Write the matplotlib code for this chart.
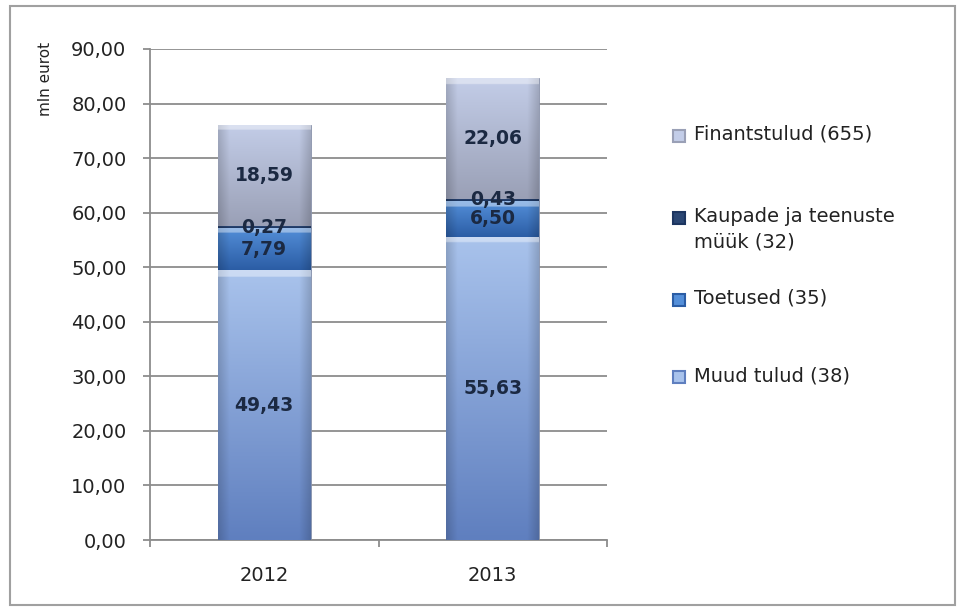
import numpy as np
import matplotlib
matplotlib.use('Agg')
import matplotlib.pyplot as plt
from matplotlib.colors import to_rgb
from matplotlib.patches import Rectangle

# Andmed (mln eurot)
aastad = ['2012', '2013']
muud_tulud = [49.43, 55.63]
toetused = [7.79, 6.50]
kaupade_myyk = [0.27, 0.43]
finantstulud = [18.59, 22.06]

seeriad = [muud_tulud, toetused, kaupade_myyk, finantstulud]
legendi_nimed = ['Finantstulud (655)', 'Kaupade ja teenuste\nmüük (32)',
                 'Toetused (35)', 'Muud tulud (38)']
yticks = np.arange(0, 91, 10)

# varvid: (ulemine, alumine)
varvid = [('#a9c3ec', '#5f7fbf'),
          ('#548fd9', '#2b5da5'),
          ('#2a4673', '#1c3560'),
          ('#c3cde8', '#9aa0b6')]


def gradient_tulp(ax, patch, top, bot):
    '''Tulba sisse vertikaalne ja horisontaalne gradient'''
    x0, y0 = patch.get_x(), patch.get_y()
    w, h = patch.get_width(), patch.get_height()
    ny, nx = 200, 60
    t = np.linspace(0, 1, ny)[:, None, None]  # 0 = ules
    c_top = np.array(to_rgb(top))
    c_bot = np.array(to_rgb(bot))
    img = c_top * (1 - t) + c_bot * t
    xx = np.linspace(0, 1, nx)
    serv = 0.84 + 0.16 * np.clip(np.minimum(xx, 1 - xx) / 0.12, 0, 1)
    img = img * serv[None, :, None]
    # hele triip ulal
    if h > 2:
        px = 5.5 / 5.455  # ~5.5 px andmeuhikutes
        frac = px / h
        rows = t[:, 0, 0] < frac
        img[rows] = img[rows] * 0.6 + 0.4
    img = np.clip(img, 0, 1)
    im = ax.imshow(img, extent=[x0, x0 + w, y0, y0 + h], aspect='auto',
                   origin='upper', zorder=3, interpolation='bilinear')
    im.set_clip_path(patch)


fig = plt.figure(figsize=(9.62, 6.13), dpi=100)
ax = fig.add_axes([150 / 962, 1 - 540 / 613, (607 - 150) / 962, (540 - 49) / 613])

x = np.arange(len(aastad))
bottom = np.zeros(len(aastad))
for s, (top, bot) in zip(seeriad, varvid):
    bars = ax.bar(x, s, width=0.405, bottom=bottom, color=bot,
                  edgecolor='#8a93ab', linewidth=0.6, zorder=2)
    for b in bars:
        gradient_tulp(ax, b, top, bot)
    for xi, v, b0 in zip(x, s, bottom):
        ax.text(xi, b0 + v / 2, f'{v:.2f}'.replace('.', ','), ha='center',
                va='center', fontsize=13.5, fontweight='bold', color='#1b2942',
                zorder=5)
    bottom = bottom + np.array(s)

ax.set_xlim(-0.5, 1.5)
ax.set_ylim(0, 90)
ax.set_yticks(yticks)
ax.set_yticklabels([f'{v:.2f}'.replace('.', ',') for v in yticks])
ax.set_xticks(x)
ax.set_xticklabels(aastad)
ax.set_xticks([-0.5, 0.5, 1.5], minor=True)

ax.yaxis.grid(True, color='#8c8c8c', linewidth=1.3, zorder=0)
ax.set_axisbelow(True)
for sp in ['top', 'right']:
    ax.spines[sp].set_visible(False)
for sp in ['left', 'bottom']:
    ax.spines[sp].set_color('#8c8c8c')
    ax.spines[sp].set_linewidth(1.3)
ax.tick_params(axis='y', length=5, width=1.3, color='#8c8c8c', pad=12,
               labelsize=14, labelcolor='#222222')
ax.tick_params(axis='x', which='major', length=0, pad=19, labelsize=14,
               labelcolor='#222222')
ax.tick_params(axis='x', which='minor', length=5, width=1.3, color='#8c8c8c')

fig.text(45 / 962, 1 - 42 / 613, 'mln eurot', rotation=90, ha='center',
         va='top', fontsize=11, color='#222222')

# legend
leg_y = [136, 218, 300, 377]
leg_colors = [varvid[3], varvid[2], varvid[1], varvid[0]]
for nimi, yy, (top, bot) in zip(legendi_nimed, leg_y, leg_colors):
    fig.patches.append(Rectangle((673 / 962, 1 - (yy + 6) / 613), 12 / 962,
                                 12 / 613, transform=fig.transFigure,
                                 facecolor=top, edgecolor=bot, linewidth=1.5))
    fig.text(694 / 962, 1 - (yy - 11) / 613, nimi, ha='left', va='top',
             fontsize=14, color='#222222', linespacing=1.45)

# raam
fig.patches.append(Rectangle((10 / 962, 1 - 605 / 613), 945 / 962, 599 / 613,
                             transform=fig.transFigure, facecolor='none',
                             edgecolor='#a0a0a0', linewidth=1.5))

fig.savefig('out.png', dpi=100)
